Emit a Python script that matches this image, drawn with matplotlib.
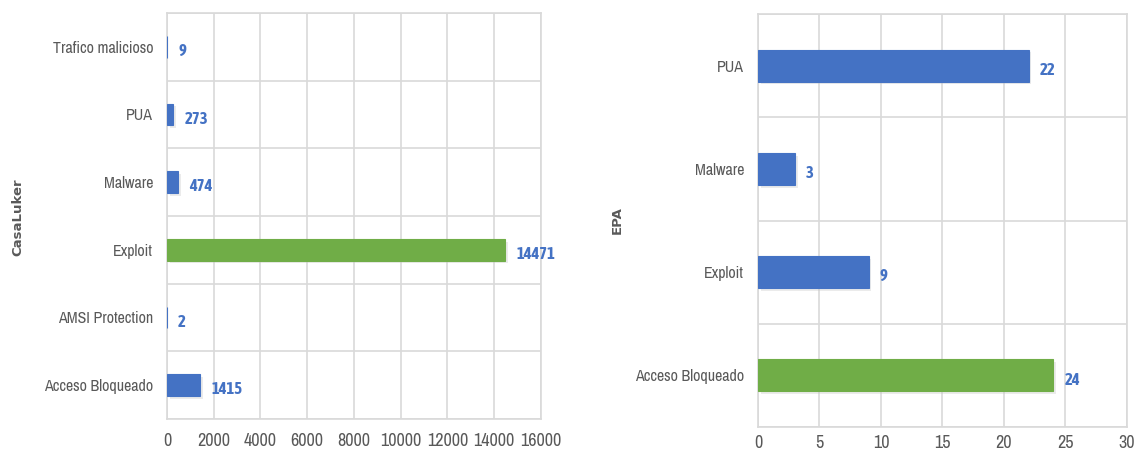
import matplotlib
matplotlib.use("Agg")
import matplotlib.pyplot as plt
import matplotlib.patheffects as pe

# Detections per category, CasaLuker
casaluker_categories = ["Acceso Bloqueado", "AMSI Protection", "Exploit", "Malware", "PUA", "Trafico malicioso"]
casaluker_values = [1415, 2, 14471, 474, 273, 9]
casaluker_ticks = [0, 2000, 4000, 6000, 8000, 10000, 12000, 14000, 16000]

# Detections per category, EPA
epa_categories = ["Acceso Bloqueado", "Exploit", "Malware", "PUA"]
epa_values = [24, 9, 3, 22]
epa_ticks = [0, 5, 10, 15, 20, 25, 30]

BLUE = "#4472C4"
GREEN = "#70AD47"
GRID = "#D9D9D9"
TEXT = "#595959"
NARROW = ["Archivo Narrow", "DejaVu Sans"]
NARROW_BOLD = ["Asap Condensed", "DejaVu Sans"]

fig = plt.figure(figsize=(11.38, 4.54), dpi=100)
ax1 = fig.add_axes([0.1467, 0.0771, 0.3287, 0.8943])
ax2 = fig.add_axes([0.666, 0.0595, 0.3243, 0.9095])


def draw(ax, cats, vals, ticks, highlight, bar_h, xpad):
    n = len(cats)
    colors = [GREEN if c == highlight else BLUE for c in cats]
    bars = ax.barh(range(n), vals, height=bar_h, color=colors,
                   edgecolor=colors, linewidth=0.8, zorder=3)
    for b in bars:
        b.set_path_effects([pe.SimplePatchShadow(offset=(2, -2), shadow_rgbFace="#c8c8c8", alpha=0.35),
                            pe.Normal()])
    ax.set_xlim(ticks[0], ticks[-1])
    ax.set_ylim(-0.5, n - 0.5)
    ax.set_xticks(ticks)
    ax.set_xticklabels([str(t) for t in ticks], family=NARROW, fontsize=13, color=TEXT)
    ax.set_yticks(range(n))
    ax.set_yticklabels(cats, family=NARROW, fontsize=11.5, color=TEXT)
    # category separators and vertical grid
    ax.set_yticks([i - 0.5 for i in range(n + 1)], minor=True)
    ax.grid(axis="y", which="minor", color=GRID, lw=1.2, zorder=0)
    ax.grid(axis="x", which="major", color=GRID, lw=1.2, zorder=0)
    ax.tick_params(axis="both", which="both", length=0)
    ax.tick_params(axis="x", pad=xpad)
    ax.tick_params(axis="y", pad=10)
    for s in ax.spines.values():
        s.set_color(GRID)
        s.set_linewidth(1.2)
    for i, v in enumerate(vals):
        ax.annotate(str(v), xy=(v, i), xytext=(8, -3), textcoords="offset points",
                    ha="left", va="center", family=NARROW_BOLD, fontsize=12,
                    fontweight="bold", color=BLUE, zorder=4)


draw(ax1, casaluker_categories, casaluker_values, casaluker_ticks, "Exploit", 0.32, 10)
draw(ax2, epa_categories, epa_values, epa_ticks, "Acceso Bloqueado", 0.31, 6)

# Axis titles sit at fixed positions beside the category labels
fig.text(18 / 1138, 1 - 217 / 454, "CasaLuker", rotation=90, ha="center", va="center",
         fontsize=9.5, fontweight="semibold", color=TEXT)
fig.text(617 / 1138, 1 - 220 / 454, "EPA", rotation=90, ha="center", va="center",
         fontsize=9.5, fontweight="semibold", color=TEXT)

fig.savefig("out.png", dpi=100)
